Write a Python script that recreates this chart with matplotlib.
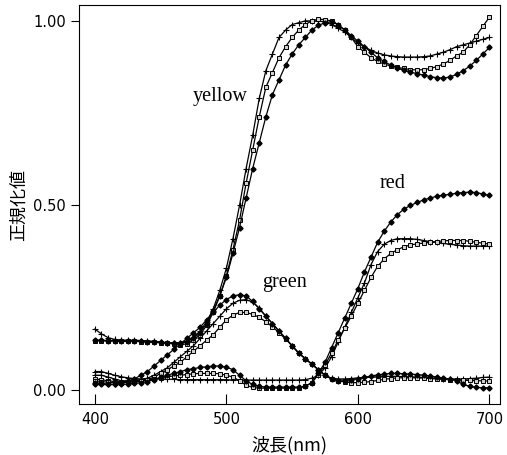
import numpy as np
import matplotlib
matplotlib.use('Agg')
import matplotlib.pyplot as plt

# wavelength grid (nm), every 5 nm
wl = np.arange(400, 701, 5)

yellow_plus = [.165, .152, .142, .137, .135, .135, .135, .134, .133, .132,
               .130, .128, .127, .128, .133, .142, .160, .185, .220, .270,
               .330, .410, .500, .600, .690, .790, .865, .910, .955, .975,
               .990, .995, 1.0, 1.0, 1.0, .997, .99, .98, .97, .955,
               .94, .93, .92, .913, .908, .905, .903, .902, .902, .902,
               .903, .905, .91, .915, .922, .93, .935, .94, .945, .95,
               .955]
yellow_sq = [.133, .133, .133, .133, .132, .132, .132, .131, .130, .129,
             .128, .127, .125, .123, .125, .135, .150, .175, .210, .255,
             .310, .380, .460, .560, .650, .740, .820, .860, .900, .930,
             .955, .975, .990, 1.0, 1.005, 1.003, 1.0, .99, .975, .955,
             .93, .915, .90, .89, .883, .878, .874, .871, .868, .867,
             .868, .871, .876, .883, .893, .905, .915, .935, .96, .985,
             1.01]
yellow_dia = [.135, .135, .134, .134, .133, .133, .132, .132, .131, .130,
              .129, .128, .128, .128, .130, .140, .155, .180, .215, .255,
              .305, .370, .440, .520, .600, .670, .740, .800, .840, .880,
              .910, .935, .955, .975, .988, .995, .998, .99, .975, .96,
              .945, .93, .915, .90, .89, .88, .872, .866, .861, .857,
              .853, .849, .846, .845, .848, .855, .865, .877, .893, .91,
              .928]

green_plus = [.04, .04, .035, .03, .025, .025, .025, .028, .032, .04,
              .05, .06, .075, .09, .105, .12, .14, .16, .18, .20,
              .22, .235, .243, .245, .238, .222, .20, .18, .16, .14,
              .12, .10, .085, .07, .055, .04, .032, .03, .03, .031,
              .033, .034, .035, .036, .037, .037, .037, .036, .036, .035,
              .034, .033, .032, .031, .030, .030, .030, .031, .032, .034,
              .035]
green_sq = [.03, .028, .025, .023, .022, .022, .023, .025, .028, .035,
            .045, .055, .065, .075, .09, .105, .12, .135, .15, .17,
            .19, .203, .21, .21, .205, .197, .185, .172, .155, .138,
            .12, .10, .085, .07, .055, .04, .03, .025, .022, .02,
            .02, .021, .023, .026, .029, .031, .033, .033, .033, .033,
            .032, .031, .03, .029, .028, .027, .026, .026, .025, .025,
            .024]
green_dia = [.015, .015, .015, .015, .02, .025, .03, .04, .05, .065,
             .08, .095, .11, .125, .14, .155, .17, .19, .21, .23,
             .245, .255, .258, .255, .24, .22, .20, .18, .16, .14,
             .12, .10, .085, .07, .055, .04, .03, .025, .025, .028,
             .03, .034, .038, .041, .043, .045, .045, .044, .043, .042,
             .04, .038, .035, .032, .03, .025, .015, .01, .007, .006,
             .006]

red_plus = [.05, .05, .045, .04, .036, .033, .031, .03, .03, .03,
            .03, .029, .029, .028, .028, .028, .028, .028, .028, .028,
            .028, .027, .027, .027, .027, .027, .027, .027, .027, .027,
            .027, .027, .028, .032, .04, .06, .09, .13, .17, .21,
            .25, .29, .34, .375, .395, .405, .41, .41, .41, .408,
            .405, .402, .40, .397, .395, .393, .391, .39, .39, .39,
            .39]
red_sq = [.025, .023, .021, .02, .02, .021, .022, .024, .027, .03,
          .033, .036, .038, .04, .042, .044, .045, .045, .045, .044,
          .04, .035, .025, .013, .007, .005, .005, .005, .005, .005,
          .005, .006, .01, .02, .042, .068, .10, .135, .168, .20,
          .235, .27, .305, .335, .355, .37, .38, .388, .393, .396,
          .398, .40, .402, .404, .405, .405, .405, .403, .40, .398,
          .395]
red_dia = [.02, .018, .016, .015, .015, .016, .018, .02, .023, .028,
           .034, .04, .045, .05, .055, .058, .061, .063, .065, .065,
           .062, .055, .04, .025, .015, .01, .008, .008, .008, .008,
           .008, .008, .01, .02, .045, .075, .115, .155, .195, .235,
           .275, .32, .36, .40, .43, .455, .475, .49, .50, .508,
           .515, .52, .525, .528, .53, .533, .535, .536, .535, .531,
           .527]

fig = plt.figure(figsize=(5.07, 4.55), dpi=100)
ax = fig.add_axes([0.156, 0.112, 0.830, 0.877])

plus_kw = dict(color='black', lw=0.9, marker='+', ms=5, mew=0.8)
sq_kw = dict(color='black', lw=0.9, marker='s', ms=3.5, mfc='#d0d0d0', mec='black', mew=0.7)
dia_kw = dict(color='black', lw=0.9, marker='D', ms=2.6, mfc='black', mec='black')

for ys in (yellow_plus, green_plus, red_plus):
    ax.plot(wl, ys, **plus_kw)
for ys in (yellow_sq, green_sq, red_sq):
    ax.plot(wl, ys, **sq_kw)
for ys in (yellow_dia, green_dia, red_dia):
    ax.plot(wl, ys, **dia_kw)

ax.set_xlim(388, 708)
ax.set_ylim(-0.038, 1.043)
ax.set_xticks([400, 500, 600, 700])
ax.set_yticks([0.0, 0.5, 1.0])
ax.set_yticklabels(['0.00', '0.50', '1.00'])
ax.tick_params(axis='x', direction='in', length=7, labelsize=10.5, pad=6)
ax.tick_params(axis='y', direction='out', length=6, labelsize=10.5)

ax.text(495, 0.795, 'yellow', family='Liberation Serif', fontsize=14.5, ha='center', va='center')
ax.text(544, 0.29, 'green', family='Liberation Serif', fontsize=14.5, ha='center', va='center')
ax.text(626, 0.56, 'red', family='Liberation Serif', fontsize=14.5, ha='center', va='center')

ax.set_xlabel('波長(nm)', family=['Noto Sans CJK JP', 'DejaVu Sans'], fontsize=13, labelpad=6)
ax.set_ylabel('正規化値', family=['Noto Sans CJK JP', 'DejaVu Sans'], fontsize=13, labelpad=4)

fig.savefig('out.png', dpi=100)
